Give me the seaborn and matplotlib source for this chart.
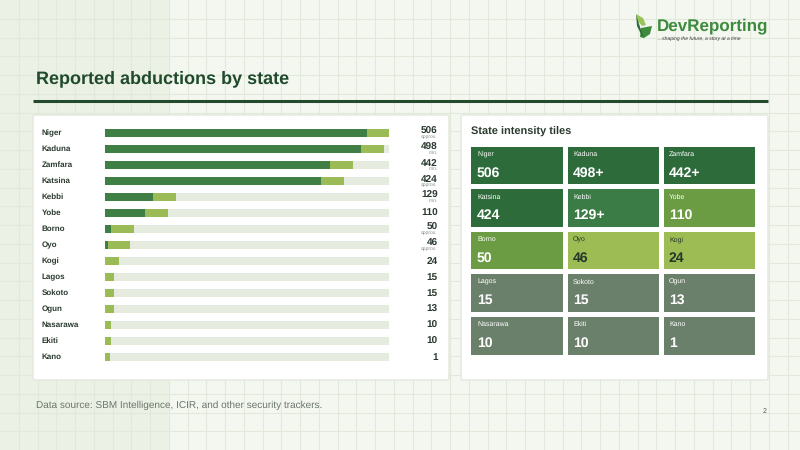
import matplotlib
matplotlib.use("Agg")
import matplotlib.pyplot as plt
from matplotlib.colors import ListedColormap
from matplotlib.patches import FancyBboxPatch, Polygon
import numpy as np
import pandas as pd
import seaborn as sns

sns.set_theme(style="white")
plt.rcParams["font.family"] = ["Liberation Sans", "DejaVu Sans"]
plt.rcParams["text.hinting"] = "no_hinting"
plt.rcParams["text.hinting_factor"] = 1

# ---- data ----
states = ["Niger", "Kaduna", "Zamfara", "Katsina", "Kebbi", "Yobe", "Borno", "Oyo",
          "Kogi", "Lagos", "Sokoto", "Ogun", "Nasarawa", "Ekiti", "Kano"]
totals = [506, 498, 442, 424, 129, 110, 50, 46, 24, 15, 15, 13, 10, 10, 1]
value_notes = ["approx.", "min.", "min.", "approx.", "min.", "", "approx.", "approx.",
               "", "", "", "", "", "", ""]
dark_part = [466, 456, 401, 385, 86, 71, 11, 5, 0, 0, 0, 0, 0, 0, 0]
bar_end = [506, 497, 441, 425, 126, 112, 51, 45, 25, 16, 16, 16, 11, 11, 9]
scale_max = 506

tile_values = ["506", "498+", "442+", "424", "129+", "110", "50", "46", "24",
               "15", "15", "13", "10", "10", "1"]
tile_levels = [0, 0, 0, 0, 1, 2, 2, 3, 3, 4, 4, 4, 4, 4, 4]
level_colors = ["#2e6b3b", "#3b7b45", "#6b9b43", "#9dbd54", "#6b806a"]
level_text = ["white", "white", "white", "#24382a", "white"]

DARK = "#3f7f46"
LIGHT = "#9bbb56"
TRACK = "#e6ebdf"
INK = "#1f4a2b"

W, H = 800, 450
fig = plt.figure(figsize=(8, 4.5), dpi=100)
fig.patch.set_facecolor("#f4f7f0")


def fx(px):
    return px / W


def fy(py):
    return 1 - py / H


# ---- page background, grid and cards ----
bg = fig.add_axes([0, 0, 1, 1], zorder=-5)
bg.set_xlim(0, W)
bg.set_ylim(H, 0)
bg.axis("off")
bg.axvspan(0, 168.7, color="#ecf1e6", lw=0, zorder=0)
for g in np.arange(18.75, W, 18.75):
    bg.axvline(g, color="#e1e9da", lw=0.8, zorder=1)
for g in np.arange(18.75, H, 18.75):
    bg.axhline(g, color="#e1e9da", lw=0.8, zorder=1)
for x0, x1 in [(33, 449), (461, 768)]:
    bg.add_patch(FancyBboxPatch((x0, 115), x1 - x0, 265,
                                boxstyle="round,pad=0,rounding_size=2",
                                fc="white", ec="#e2e8dc", lw=1, zorder=3))
bg.plot([33, 768], [101, 101], color="#234a2d", lw=2.2, solid_capstyle="butt",
        zorder=3)

bg.text(36, 79, "Reported abductions by state", fontsize=13.2, fontweight="bold",
        color=INK, va="center", ha="left", zorder=4)
bg.text(471, 132, "State intensity tiles", fontsize=7.9, fontweight="bold",
        color="#2a3b2e", va="center", ha="left", zorder=4)
bg.text(36, 405, "Data source: SBM Intelligence, ICIR, and other security trackers.",
        fontsize=7.4, color="#6b766b", va="center", ha="left", zorder=4)
bg.text(767, 411, "2", fontsize=5, color="#555555", va="center", ha="right", zorder=4)

# logo
bg.text(657, 26, "DevReporting", fontsize=12.4, fontweight="bold", color="#3d8b3d",
        va="center", ha="left", zorder=4)
bg.text(658, 38.5, "...shaping the future, a story at a time", fontsize=3.3,
        style="italic", color="#333333", va="center", ha="left", zorder=4)
bg.add_patch(Polygon([[636, 14], [643, 18], [646, 25], [642, 26], [638, 21]],
                     closed=True, fc="#9bc35a", ec="none", zorder=4))
bg.add_patch(Polygon([[641, 28], [652, 26], [650, 34], [644, 38], [640, 37]],
                     closed=True, fc="#3d8b3d", ec="none", zorder=4))
bg.add_patch(Polygon([[636, 14], [637, 26], [642, 36], [644, 38], [640, 27]],
                     closed=True, fc="#2e6b3b", ec="none", zorder=4))

# ---- bar chart ----
df = pd.DataFrame({"state": states, "total": totals, "dark": dark_part,
                   "end": bar_end})
df["track"] = scale_max

ax = fig.add_axes([fx(105), fy(365), fx(389) - fx(105), fy(125) - fy(365)])
ax.patch.set_alpha(0)
sns.barplot(data=df, x="track", y="state", color=TRACK, width=0.5,
            saturation=1, linewidth=0, ax=ax)
sns.barplot(data=df, x="end", y="state", color=LIGHT, width=0.5,
            saturation=1, linewidth=0, ax=ax)
sns.barplot(data=df[df["dark"] > 0], x="dark", y="state", color=DARK, width=0.5,
            saturation=1, linewidth=0, ax=ax, order=states)
ax.set_xlim(0, scale_max)
ax.set_ylim(len(states) - 0.5, -0.5)
ax.set_xlabel("")
ax.set_ylabel("")
ax.set_xticks([])
ax.set_yticks([])
for s in ax.spines.values():
    s.set_visible(False)

tr = ax.get_yaxis_transform()
for i, (name, tot, note) in enumerate(zip(states, totals, value_notes)):
    ax.text(-0.222, i, name, transform=tr, fontsize=5.6, fontweight="semibold",
            color="#2b3a2e", va="center", ha="left")
    dy = -0.1 if note else 0
    ax.text(1.172, i + dy, str(tot), transform=tr, fontsize=6.9,
            fontweight="bold", color="#2b3a2e", va="center", ha="right")
    if note:
        ax.text(1.172, i + 0.25, note, transform=tr, fontsize=3.4,
                color="#8a8f8a", va="center", ha="right")

# ---- intensity tiles ----
grid = np.array(tile_levels).reshape(5, 3)
tx = fig.add_axes([fx(468.5), fy(356.5), fx(756.5) - fx(468.5),
                   fy(143.5) - fy(356.5)])
sns.heatmap(grid, cmap=ListedColormap(level_colors), vmin=-0.5, vmax=4.5,
            cbar=False, linewidths=3.6, linecolor="white", ax=tx,
            xticklabels=False, yticklabels=False)
for k, (name, val, lev) in enumerate(zip(states, tile_values, tile_levels)):
    r, c = divmod(k, 3)
    col = level_text[lev]
    tx.text(c + 0.09, r + 0.25, name, fontsize=5.2, color=col,
            va="center", ha="left")
    tx.text(c + 0.085, r + 0.69, val, fontsize=9.8, fontweight="bold", color=col,
            va="center", ha="left")

fig.savefig("out.png", dpi=100, facecolor=fig.get_facecolor())
